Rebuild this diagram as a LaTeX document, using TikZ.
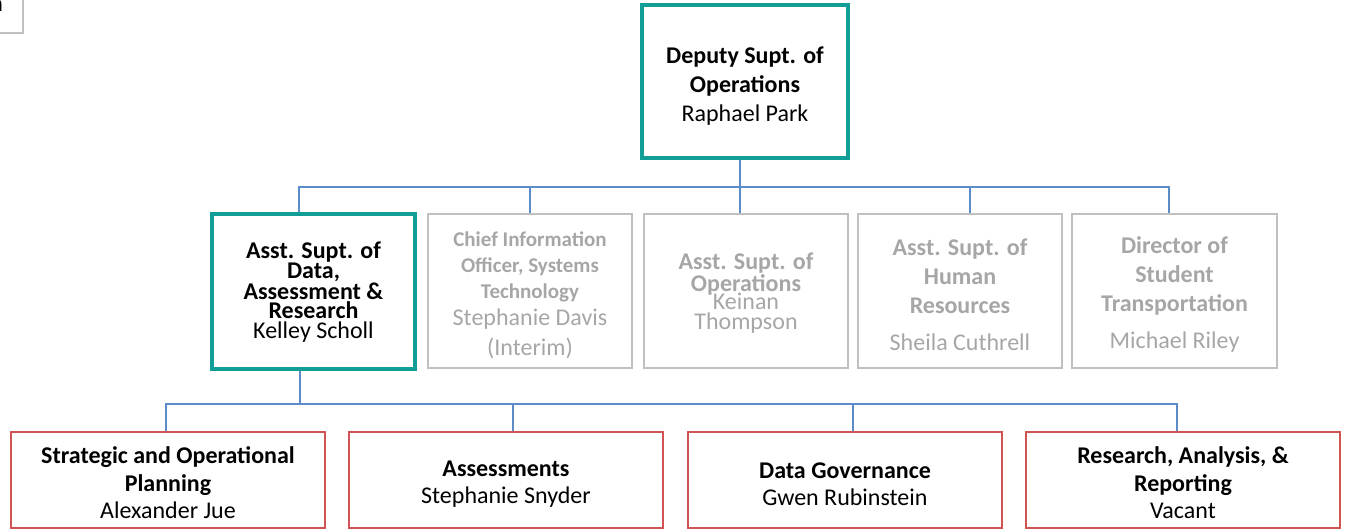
\documentclass[tikz,border=0pt]{standalone}
\usepackage{fontspec}
\setmainfont{Carlito}
\definecolor{tealc}{RGB}{16,158,151}
\definecolor{grayline}{RGB}{192,192,192}
\definecolor{graytext}{RGB}{166,166,166}
\definecolor{redline}{RGB}{208,84,84}
\definecolor{connc}{RGB}{92,140,200}
\begin{document}
\begin{tikzpicture}[x=1pt,y=-1pt,
  box/.style={rectangle, inner sep=0pt, anchor=center},
  txt/.style={inner sep=0pt, align=center, anchor=center},
  tealbox/.style={box, draw=tealc, line width=3.6pt},
  graybox/.style={box, draw=grayline, line width=2.6pt},
  graytxt/.style={txt, text=graytext},
  redbox/.style={box, draw=redline, line width=1.3pt, minimum width=314, minimum height=96},
  fnormal/.style={font=\fontsize{24}{29}\selectfont},
  ftight/.style={font=\fontsize{24}{18.8}\selectfont},
  fbottom/.style={font=\fontsize{24}{27.5}\selectfont},
  conn/.style={draw=connc, line width=1.3pt}]
\useasboundingbox (0,0) rectangle (1345,531);
% partial box at top-left
\draw[draw=grayline, line width=2pt] (-10,-10) rectangle (23,33);
\node[anchor=base east, inner sep=0pt, font=\fontsize{24}{29}\selectfont] (cut) at (3.2,11) {n};
% top
\node[tealbox, minimum width=206, minimum height=153] (top) at (745,81.5) {};
\node[txt, fnormal] (topt) at ([yshift=-4.5pt]top.center)
  {\textbf{Deputy Supt. of}\\\textbf{Operations}\\Raphael Park};
% level 2
\node[tealbox, minimum width=203, minimum height=155] (A) at (313.5,291.5) {};
\node[txt, ftight] (At) at ([yshift=-0.5pt]A.center)
  {\textbf{Asst. Supt. of}\\\textbf{Data,}\\\textbf{Assessment \&}\\\textbf{Research}\\[1pt]Kelley Scholl};
\node[graybox, minimum width=204, minimum height=154] (B) at (530,291) {};
\node[graytxt, font=\fontsize{21}{26}\selectfont] (Bt) at ([yshift=-4.5pt]B.center)
  {\textbf{Chief Information}\\\textbf{Officer, Systems}\\\textbf{Technology}\\[1pt]{\fontsize{24}{29}\selectfont Stephanie Davis}\\[4pt]{\fontsize{24}{29}\selectfont (Interim)}};
\node[graybox, minimum width=204, minimum height=154] (C) at (746,291) {};
\node[graytxt, ftight] (Ct) at ([yshift=-2pt]C.center)
  {\textbf{Asst. Supt. of}\\\textbf{Operations}\\[-3pt]Keinan\\[1pt]Thompson};
\node[graybox, minimum width=204, minimum height=154] (D) at (960,291) {};
\node[graytxt, fnormal] (Dt) at ([yshift=-4pt]D.center)
  {\textbf{Asst. Supt. of}\\\textbf{Human}\\\textbf{Resources}\\[8pt]Sheila Cuthrell};
\node[graybox, minimum width=205, minimum height=154] (E) at (1174.5,291) {};
\node[graytxt, fnormal] (Et) at ([yshift=-4pt]E.center)
  {\textbf{Director of}\\\textbf{Student}\\\textbf{Transportation}\\[8pt]Michael Riley};
% level 3
\node[redbox] (F) at (168,480) {};
\node[txt, fbottom] (Ft) at ([yshift=-3pt]F.center)
  {\textbf{Strategic and Operational}\\\textbf{Planning}\\Alexander Jue};
\node[redbox] (G) at (506,480) {};
\node[txt, fbottom] (Gt) at ([yshift=-4pt]G.center)
  {\textbf{Assessments}\\Stephanie Snyder};
\node[redbox] (H) at (845,480) {};
\node[txt, fbottom] (Ht) at ([yshift=-4pt]H.center)
  {\textbf{Data Governance}\\Gwen Rubinstein};
\node[redbox] (I) at (1183,480) {};
\node[txt, fbottom] (It) at ([yshift=-3pt]I.center)
  {\textbf{Research, Analysis, \&}\\\textbf{Reporting}\\Vacant};
% connectors
\coordinate (bus1) at (745,187);
\coordinate (bus2) at (700,404);
\coordinate (dT) at ([xshift=-5pt]top.south);
\coordinate (dA) at ([xshift=-14.5pt]A.north);
\coordinate (dB) at (B.north);
\coordinate (dC) at ([xshift=-6pt]C.north);
\coordinate (dD) at ([xshift=10pt]D.north);
\coordinate (dE) at ([xshift=-5.5pt]E.north);
\draw[conn] (dT) -- (dT |- bus1);
\draw[conn] (dA) -- (dA |- bus1) -- (dE |- bus1) -- (dE);
\draw[conn] (dB) -- (dB |- bus1);
\draw[conn] (dC) -- (dC |- bus1);
\draw[conn] (dD) -- (dD |- bus1);
\coordinate (uA) at ([xshift=-13.5pt]A.south);
\coordinate (dF) at ([xshift=-2pt]F.north);
\coordinate (dG) at ([xshift=7pt]G.north);
\coordinate (dH) at ([xshift=8pt]H.north);
\coordinate (dI) at ([xshift=-6pt]I.north);
\draw[conn] (uA) -- (uA |- bus2);
\draw[conn] (dF) -- (dF |- bus2) -- (dI |- bus2) -- (dI);
\draw[conn] (dG) -- (dG |- bus2);
\draw[conn] (dH) -- (dH |- bus2);
\end{tikzpicture}
\end{document}
